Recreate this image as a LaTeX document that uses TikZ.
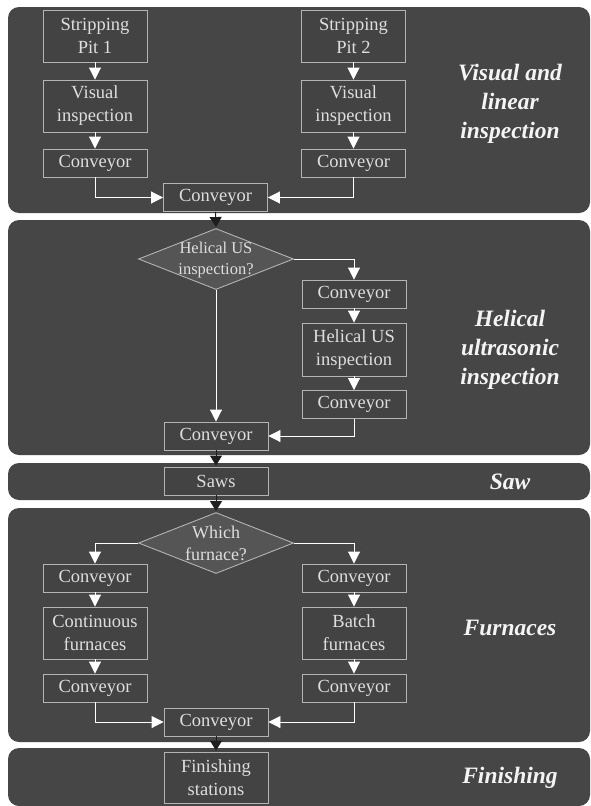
\documentclass[tikz,border=0pt]{standalone}
\usepackage{fontspec}
\setmainfont{Liberation Serif}
\usetikzlibrary{arrows.meta,shapes.geometric}
\definecolor{bandfill}{HTML}{464646}
\definecolor{boxfill}{HTML}{434343}
\definecolor{diafill}{HTML}{555555}
\definecolor{boxline}{HTML}{B4B4B4}
\definecolor{boxtext}{HTML}{DEDEDE}
\definecolor{lbltext}{HTML}{F4F4F4}
\definecolor{darkarr}{HTML}{1E1E1E}
\tikzset{
  band/.style={fill=bandfill, rounded corners=11pt},
  pbox/.style={draw=boxline, line width=0.9pt, fill=boxfill, text=boxtext,
    inner sep=0pt, align=center, minimum width=104pt, minimum height=28pt,
    font=\fontsize{18.5}{23}\selectfont},
  tallbox/.style={pbox, minimum height=52pt},
  decision/.style={diamond, draw=boxline, line width=0.9pt, fill=diafill,
    inner sep=0pt, minimum width=155pt, minimum height=61pt},
  dtext/.style={text=boxtext, align=center, inner sep=0pt},
  stage/.style={text=lbltext, align=center, inner sep=0pt,
    font=\bfseries\itshape\fontsize{23.5}{29}\selectfont},
  warr/.style={draw=white, line width=0.9pt,
    -{Triangle[width=12pt,length=12pt,fill=white]}},
  darr/.style={draw=darkarr, line width=0.9pt,
    -{Triangle[width=12pt,length=10pt,fill=darkarr]}, shorten >=1pt},
}
\begin{document}
\begin{tikzpicture}[x=1pt,y=-1pt]
\useasboundingbox (0,0) rectangle (591,806);
\fill[white] (0,0) rectangle (591,806);
% bands
\path[band] (8,7) rectangle (590,213);
\path[band] (8,220) rectangle (590,455);
\path[band] (8,463) rectangle (590,500);
\path[band] (8,508) rectangle (590,742);
\path[band] (8,748) rectangle (590,806);

% stage labels
\node[stage] (lab1) at (510,104) {Visual and\\linear\\inspection};
\node[stage] (lab2) at (510,350) {Helical\\ultrasonic\\inspection};
\node[stage] (lab3) at (510,482) {Saw};
\node[stage] (lab4) at (510,628) {Furnaces};
\node[stage] (lab5) at (510,778) {Finishing};

% band 1
\node[tallbox] (sp1) at (95,36) {Stripping\\Pit 1};
\node[tallbox] (vi1) at (95,106) {Visual\\inspection};
\node[pbox] (cv1) at (95,163) {Conveyor};
\node[tallbox] (sp2) at (353.5,36) {Stripping\\Pit 2};
\node[tallbox] (vi2) at (353.5,106) {Visual\\inspection};
\node[pbox] (cv2) at (353.5,163) {Conveyor};
\node[pbox] (cvA) at (215.5,197.5) {Conveyor};

% band 2
\node[decision] (dia1) at (216,259) {};
\node[dtext, font=\fontsize{16.5}{21}\selectfont] (dia1t) at (216,260) {Helical US\\inspection?};
\node[pbox] (cv3) at (354,294) {Conveyor};
\node[pbox, minimum height=53pt] (hu) at (354,349.5) {Helical US\\inspection};
\node[pbox] (cv4) at (354,404.5) {Conveyor};
\node[pbox] (cvB) at (216,436) {Conveyor};

% band 3
\node[pbox] (saws) at (216,481) {Saws};

% band 4
\node[decision] (dia2) at (216,543) {};
\node[dtext, font=\fontsize{18}{22}\selectfont] (dia2t) at (216,543) {Which\\furnace?};
\node[pbox] (cv5) at (95,578) {Conveyor};
\node[tallbox] (cf) at (95,633) {Continuous\\furnaces};
\node[pbox] (cv6) at (95,688) {Conveyor};
\node[pbox] (cv7) at (354,578) {Conveyor};
\node[tallbox] (bf) at (354,633) {Batch\\furnaces};
\node[pbox] (cv8) at (354,688) {Conveyor};
\node[pbox] (cvC) at (216,722) {Conveyor};

% band 5
\node[pbox, minimum height=51pt] (fin) at (216,777.5) {Finishing\\stations};

% connectors band 1
\draw[warr] (sp1) -- (vi1);
\draw[warr] (vi1) -- (cv1);
\draw[warr] (sp2) -- (vi2);
\draw[warr] (vi2) -- (cv2);
\draw[warr] (cv1.south) |- (cvA.west);
\draw[warr] (cv2.south) |- (cvA.east);
\draw[darr] (cvA.south) -- (dia1.north);

% band 2
\draw[warr] (dia1.east) -| (cv3.north);
\draw[warr] (cv3) -- (hu);
\draw[warr] (hu) -- (cv4);
\draw[warr] (cv4.south) |- (cvB.east);
\draw[warr] (dia1.south) -- (cvB.north);
\draw[darr] (cvB.south) -- (saws.north);

% band 3/4
\draw[darr] (saws.south) -- (dia2.north);
\draw[warr] (dia2.west) -| (cv5.north);
\draw[warr] (dia2.east) -| (cv7.north);
\draw[warr] (cv5) -- (cf);
\draw[warr] (cf) -- (cv6);
\draw[warr] (cv7) -- (bf);
\draw[warr] (bf) -- (cv8);
\draw[warr] (cv6.south) |- (cvC.west);
\draw[warr] (cv8.south) |- (cvC.east);
\draw[darr] (cvC.south) -- (fin.north);
\end{tikzpicture}
\end{document}
